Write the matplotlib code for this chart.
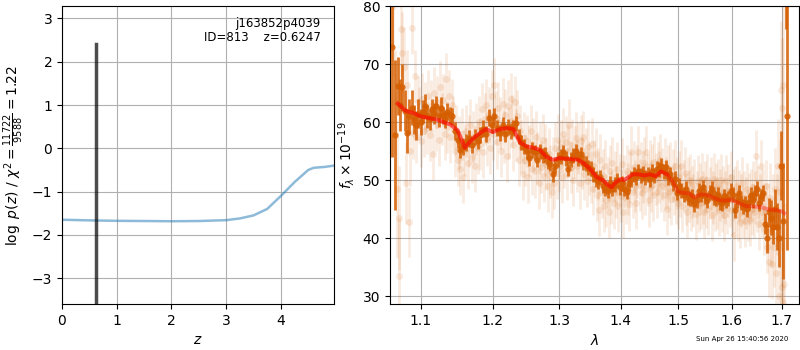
import numpy as np
import matplotlib
matplotlib.use("Agg")
import matplotlib.pyplot as plt
from matplotlib.ticker import NullLocator, FixedLocator, FixedFormatter

# left panel: redshift PDF
z_grid = [0.0, 0.5, 1.0, 1.5, 2.0, 2.5, 3.0, 3.25, 3.5, 3.75, 4.0, 4.25, 4.5, 4.6, 4.8, 4.97]
logp = [-1.65, -1.665, -1.675, -1.68, -1.685, -1.68, -1.66, -1.62, -1.55, -1.4, -1.1, -0.78, -0.5, -0.45, -0.43, -0.4]
zbest = 0.6247
spike_z = [zbest, zbest]
spike_logp = [-8.0, 2.4]
label_txt = "j163852p4039\nID=813    z=0.6247"

# right panel: binned spectrum (dark), raw spectrum (light), model
wave_bin = [1.063, 1.066, 1.070, 1.073, 1.076, 1.079, 1.082, 1.085, 1.088, 1.091, 1.094, 1.097,
            1.100, 1.103, 1.106, 1.109, 1.112, 1.115, 1.118, 1.121, 1.124, 1.127, 1.130, 1.133,
            1.136, 1.139, 1.142, 1.146, 1.150, 1.154, 1.158, 1.162, 1.166, 1.170, 1.174, 1.178,
            1.182, 1.186, 1.190, 1.194, 1.198, 1.202, 1.206, 1.210, 1.214, 1.218, 1.222, 1.226,
            1.230, 1.234, 1.238, 1.242, 1.246, 1.250, 1.254, 1.258, 1.262, 1.266, 1.270, 1.274,
            1.278, 1.282, 1.286, 1.290, 1.294, 1.298, 1.302, 1.306, 1.310, 1.314, 1.318, 1.322,
            1.326, 1.330, 1.334, 1.338, 1.342, 1.346, 1.350, 1.354, 1.358, 1.362, 1.366, 1.370,
            1.374, 1.378, 1.382, 1.386, 1.390, 1.394, 1.398, 1.402, 1.406, 1.410, 1.414, 1.418,
            1.422, 1.426, 1.430, 1.434, 1.438, 1.442, 1.446, 1.450, 1.454, 1.458, 1.462, 1.466,
            1.470, 1.474, 1.478, 1.482, 1.486, 1.490, 1.494, 1.498, 1.502, 1.506, 1.510, 1.514,
            1.518, 1.522, 1.526, 1.530, 1.534, 1.538, 1.542, 1.546, 1.550, 1.554, 1.558, 1.562,
            1.566, 1.570, 1.574, 1.578, 1.582, 1.586, 1.590, 1.594, 1.598, 1.602, 1.606, 1.610,
            1.614, 1.618, 1.622, 1.626, 1.630, 1.634, 1.638, 1.642, 1.646, 1.650, 1.654, 1.658,
            1.662, 1.666, 1.670, 1.674, 1.678, 1.682, 1.686, 1.690, 1.694, 1.698, 1.702, 1.708,
            1.711]
flux_bin = [73.0, 57.8, 66.2, 63.0, 66.0, 62.0, 58.2, 61.0, 62.5, 60.5, 59.5, 61.5,
            60.0, 61.8, 62.8, 61.0, 60.5, 62.2, 61.5, 62.8, 61.0, 62.5, 61.2, 60.5,
            61.8, 61.2, 61.0, 58.5, 57.0, 55.2, 55.8, 56.5, 57.2, 56.0, 57.5, 56.8,
            57.8, 58.9, 58.0, 60.8, 59.5, 61.0, 59.0, 58.2, 59.5, 58.0, 59.2, 58.5,
            59.0, 59.8, 57.5, 56.5, 55.8, 55.0, 53.8, 55.2, 54.8, 53.5, 55.0, 54.2,
            54.5, 53.2, 52.8, 51.0, 52.5, 53.6, 54.0, 54.8, 53.8, 52.0, 53.5, 54.2,
            55.0, 53.8, 54.5, 53.0, 52.8, 52.2, 52.0, 51.0, 50.2, 49.8, 50.5, 49.0,
            48.5, 48.2, 49.5, 48.5, 49.2, 50.0, 48.8, 49.5, 48.5, 48.0, 49.5, 50.2,
            51.0, 50.5, 51.5, 50.8, 51.2, 50.5, 51.0, 50.2, 51.5, 50.8, 52.0, 51.8,
            52.5, 51.5, 52.2, 50.5, 51.0, 49.5, 50.2, 47.8, 49.0, 48.2, 47.5, 48.5,
            47.0, 46.8, 47.2, 45.8, 46.5, 48.2, 47.5, 48.8, 47.2, 46.5, 47.8, 48.5,
            47.0, 46.8, 47.5, 46.2, 46.0, 47.2, 46.5, 46.8, 48.2, 47.5, 44.8, 46.5,
            47.8, 46.2, 45.5, 46.0, 45.0, 46.2, 47.5, 46.5, 47.8, 48.5, 46.0, 47.2,
            47.8, 42.5, 40.0, 44.5, 43.5, 42.0, 45.0, 42.0, 40.0, 52.5, 43.0, 88.0,
            61.0]
err_bin = [19.0, 13.0, 5.0, 4.5, 4.0, 3.5, 3.5, 3.0, 3.0, 2.5, 2.5, 2.5,
           2.2, 2.0, 2.0, 2.0, 1.8, 1.8, 1.8, 1.8, 1.8, 1.8, 1.5, 1.5,
           1.5, 1.5, 1.5, 1.5, 1.5, 1.4, 1.4, 1.4, 1.4, 1.4, 1.4, 1.4,
           1.4, 1.4, 1.4, 1.4, 1.4, 1.4, 1.4, 1.4, 1.4, 1.4, 1.4, 1.4,
           1.3, 1.3, 1.3, 1.3, 1.3, 1.3, 1.3, 1.3, 1.3, 1.3, 1.3, 1.3,
           1.3, 1.3, 1.3, 1.3, 1.3, 1.3, 1.3, 1.3, 1.3, 1.3, 1.3, 1.3,
           1.3, 1.3, 1.3, 1.3, 1.3, 1.3, 1.3, 1.3, 1.3, 1.3, 1.3, 1.3,
           1.3, 1.3, 1.3, 1.3, 1.3, 1.3, 1.3, 1.3, 1.3, 1.3, 1.3, 1.3,
           1.3, 1.3, 1.3, 1.3, 1.3, 1.3, 1.3, 1.3, 1.3, 1.3, 1.3, 1.3,
           1.3, 1.3, 1.3, 1.3, 1.3, 1.3, 1.3, 1.3, 1.3, 1.3, 1.3, 1.3,
           1.3, 1.3, 1.3, 1.3, 1.3, 1.3, 1.3, 1.3, 1.3, 1.3, 1.3, 1.3,
           1.3, 1.3, 1.3, 1.3, 1.3, 1.3, 1.3, 1.3, 1.3, 1.3, 1.3, 1.3,
           1.3, 1.3, 1.3, 1.3, 1.3, 1.3, 1.3, 1.3, 1.3, 1.3, 1.3, 1.3,
           1.4, 1.8, 2.5, 2.5, 3.0, 3.0, 3.5, 4.0, 5.0, 6.0, 10.0, 12.0,
           23.0]

wave_raw = [1.064, 1.067, 1.069, 1.071, 1.072, 1.074, 1.076, 1.078, 1.080, 1.082, 1.084, 1.086,
            1.088, 1.090, 1.092, 1.094, 1.096, 1.098, 1.100, 1.102, 1.104, 1.106, 1.108, 1.110,
            1.112, 1.114, 1.116, 1.118, 1.120, 1.122, 1.124, 1.126, 1.128, 1.130, 1.132, 1.134,
            1.136, 1.138, 1.140, 1.142, 1.144, 1.146, 1.148, 1.150, 1.152, 1.154, 1.156, 1.158,
            1.160, 1.162, 1.164, 1.166, 1.168, 1.170, 1.172, 1.174, 1.176, 1.178, 1.180, 1.182,
            1.184, 1.186, 1.188, 1.190, 1.192, 1.194, 1.196, 1.198, 1.200, 1.202, 1.204, 1.206,
            1.208, 1.210, 1.212, 1.214, 1.216, 1.218, 1.220, 1.222, 1.224, 1.226, 1.228, 1.230,
            1.232, 1.234, 1.236, 1.238, 1.240, 1.242, 1.244, 1.246, 1.248, 1.250, 1.252, 1.254,
            1.256, 1.258, 1.260, 1.262, 1.264, 1.266, 1.268, 1.270, 1.272, 1.274, 1.276, 1.278,
            1.280, 1.282, 1.284, 1.286, 1.288, 1.290, 1.292, 1.294, 1.296, 1.298, 1.300, 1.302,
            1.304, 1.306, 1.308, 1.310, 1.312, 1.314, 1.316, 1.318, 1.320, 1.322, 1.324, 1.326,
            1.328, 1.330, 1.332, 1.334, 1.336, 1.338, 1.340, 1.342, 1.344, 1.346, 1.348, 1.350,
            1.352, 1.354, 1.356, 1.358, 1.360, 1.362, 1.364, 1.366, 1.368, 1.370, 1.372, 1.374,
            1.376, 1.378, 1.380, 1.382, 1.384, 1.386, 1.388, 1.390, 1.392, 1.394, 1.396, 1.398,
            1.400, 1.402, 1.404, 1.406, 1.408, 1.410, 1.412, 1.414, 1.416, 1.418, 1.420, 1.422,
            1.424, 1.426, 1.428, 1.430, 1.432, 1.434, 1.436, 1.438, 1.440, 1.442, 1.444, 1.446,
            1.448, 1.450, 1.452, 1.454, 1.456, 1.458, 1.460, 1.462, 1.464, 1.466, 1.468, 1.470,
            1.472, 1.474, 1.476, 1.478, 1.480, 1.482, 1.484, 1.486, 1.488, 1.490, 1.492, 1.494,
            1.496, 1.498, 1.500, 1.502, 1.504, 1.506, 1.508, 1.510, 1.512, 1.514, 1.516, 1.518,
            1.520, 1.522, 1.524, 1.526, 1.528, 1.530, 1.532, 1.534, 1.536, 1.538, 1.540, 1.542,
            1.544, 1.546, 1.548, 1.550, 1.552, 1.554, 1.556, 1.558, 1.560, 1.562, 1.564, 1.566,
            1.568, 1.570, 1.572, 1.574, 1.576, 1.578, 1.580, 1.582, 1.584, 1.586, 1.588, 1.590,
            1.592, 1.594, 1.596, 1.598, 1.600, 1.602, 1.604, 1.606, 1.608, 1.610, 1.612, 1.614,
            1.616, 1.618, 1.620, 1.622, 1.624, 1.626, 1.628, 1.630, 1.632, 1.634, 1.636, 1.638,
            1.640, 1.642, 1.644, 1.646, 1.648, 1.650, 1.652, 1.654, 1.656, 1.658, 1.660, 1.662,
            1.664, 1.666, 1.668, 1.670, 1.672, 1.674, 1.676, 1.678, 1.680, 1.682, 1.684, 1.686,
            1.688, 1.690, 1.692, 1.694, 1.696, 1.698, 1.699, 1.700, 1.701, 1.702, 1.703, 1.704]
flux_raw = [80.0, 63.5, 48.5, 33.5, 43.5, 76.0, 72.0, 69.5, 49.5, 66.5, 42.8, 55.0,
            76.2, 58.2, 68.0, 57.5, 63.5, 61.5, 56.8, 64.0, 58.5, 62.5, 59.0, 64.5,
            57.8, 62.8, 54.5, 65.0, 59.5, 63.5, 57.0, 66.0, 60.5, 63.8, 58.0, 67.5,
            59.2, 64.5, 57.5, 63.0, 60.0, 55.0, 58.5, 53.5, 56.5, 52.0, 58.0, 50.5,
            55.2, 58.5, 53.0, 56.8, 59.5, 54.0, 57.5, 52.5, 58.8, 55.5, 60.0, 56.2,
            62.2, 54.8, 60.5, 63.0, 57.0, 61.5, 55.5, 64.5, 58.0, 66.5, 60.8, 56.5,
            62.5, 59.8, 55.0, 63.2, 57.5, 61.2, 54.2, 62.8, 58.2, 64.0, 60.2, 56.0,
            63.5, 57.8, 61.0, 53.5, 58.5, 55.8, 51.0, 57.2, 53.5, 56.8, 50.5, 55.0,
            58.5, 52.0, 56.2, 51.5, 57.5, 53.8, 49.5, 55.5, 52.2, 57.0, 50.8, 55.2,
            52.8, 49.0, 54.5, 51.5, 48.0, 53.0, 49.5, 55.5, 51.2, 57.0, 52.5, 55.8,
            50.5, 58.0, 53.2, 56.5, 51.0, 55.0, 59.5, 52.2, 56.0, 50.0, 54.8, 57.2,
            52.5, 55.5, 49.5, 56.8, 53.0, 57.5, 51.0, 54.5, 49.8, 55.8, 52.0, 50.5,
            56.2, 48.5, 52.5, 54.5, 47.5, 51.0, 44.8, 53.5, 48.0, 50.8, 45.5, 52.5,
            46.5, 49.5, 44.5, 51.5, 47.0, 53.0, 46.0, 50.5, 48.0, 52.0, 45.5, 50.0,
            47.2, 52.8, 44.5, 49.8, 47.0, 51.5, 48.5, 45.8, 50.5, 54.8, 48.0, 52.2,
            49.0, 46.0, 51.5, 54.8, 49.2, 52.0, 47.8, 50.5, 53.0, 48.5, 54.8, 50.0,
            46.5, 52.5, 49.0, 51.8, 47.5, 53.2, 50.2, 48.0, 52.0, 50.5, 53.5, 49.0,
            51.0, 47.5, 52.8, 49.5, 45.0, 51.5, 48.0, 52.0, 46.8, 50.8, 48.5, 52.5,
            47.0, 49.5, 46.0, 50.5, 48.2, 52.5, 45.5, 49.0, 51.2, 46.8, 44.5, 49.5,
            47.2, 50.0, 45.8, 48.0, 46.5, 49.2, 44.2, 47.0, 49.8, 45.5, 48.5, 46.0,
            50.2, 47.0, 44.5, 48.8, 46.2, 50.0, 45.0, 47.8, 49.5, 44.0, 47.0, 50.2,
            45.8, 48.5, 46.0, 49.2, 44.8, 47.5, 50.0, 45.5, 48.0, 44.0, 47.0, 49.8,
            45.2, 48.2, 46.5, 50.5, 44.8, 47.5, 40.5, 48.0, 45.5, 49.0, 44.0, 47.2,
            42.8, 46.5, 49.5, 44.5, 47.0, 43.0, 46.0, 48.5, 44.0, 46.8, 43.2, 47.5,
            45.0, 48.8, 44.5, 47.0, 54.2, 45.5, 48.0, 42.5, 46.5, 52.5, 44.5, 47.5,
            41.5, 45.0, 49.0, 38.5, 43.5, 35.8, 47.0, 41.0, 35.5, 45.0, 38.5, 48.5,
            34.0, 44.0, 52.5, 30.0, 48.0, 38.5, 65.5, 31.5, 62.5, 29.0, 66.5, 32.0]
err_raw = ([12, 9, 12, 10, 9, 8, 7, 7, 7, 6, 6, 6] + [4.5] * 292
           + [6, 6, 6, 6, 6, 6, 7, 7, 7, 7, 8, 8, 9, 10, 12, 11, 12, 12, 14, 14])

wave_model = [1.07, 1.08, 1.09, 1.10, 1.12, 1.14, 1.15, 1.16, 1.17, 1.18, 1.19, 1.20, 1.21,
              1.22, 1.23, 1.24, 1.25, 1.26, 1.27, 1.28, 1.29, 1.30, 1.31, 1.32, 1.33, 1.34,
              1.35, 1.36, 1.37, 1.38, 1.385, 1.39, 1.40, 1.405, 1.41, 1.42, 1.43, 1.44, 1.45,
              1.46, 1.47, 1.48, 1.49, 1.50, 1.51, 1.52, 1.53, 1.54, 1.55, 1.56, 1.57, 1.58,
              1.59, 1.60, 1.61, 1.62, 1.63, 1.64, 1.65, 1.66, 1.67, 1.68, 1.69, 1.70, 1.705]
flux_model = [63.2, 62.0, 61.6, 61.0, 60.5, 59.6, 58.6, 55.6, 57.0, 58.0, 58.8, 58.3, 58.8,
              59.0, 58.8, 56.5, 55.8, 55.6, 55.2, 54.0, 53.5, 53.8, 53.7, 53.6, 53.5, 52.8,
              51.8, 50.5, 50.0, 49.0, 48.8, 49.5, 50.2, 50.0, 50.3, 51.0, 51.0, 50.8, 51.0,
              50.7, 51.5, 51.0, 49.8, 48.0, 47.8, 47.7, 47.0, 47.5, 47.5, 47.2, 46.8, 46.5,
              46.5, 46.6, 46.2, 45.8, 45.5, 45.5, 45.4, 45.3, 45.0, 44.9, 44.8, 44.6, 44.3]
n_red = 42  # second (overlapping) model trace stops near 1.48

lam_ticks = [1.1, 1.2, 1.3, 1.4, 1.5, 1.6, 1.7]
stamp = "Sun Apr 26 15:40:56 2020"

col = (0.8353, 0.3686, 0.0)

fig = plt.figure(figsize=(8, 3.5), dpi=100)
ax1 = fig.add_axes([0.0775, 0.131, 0.34, 0.851])
ax2 = fig.add_axes([0.4875, 0.131, 0.511, 0.851])

ax1.plot(z_grid, logp, color='tab:blue', alpha=0.5, lw=1.8)
ax1.plot(spike_z, spike_logp, color='k', alpha=0.7, lw=2.5)
ax1.set_xlim(0, 4.97)
ax1.set_ylim(-3.6, 3.28)
ax1.set_xticks([0, 1, 2, 3, 4])
ax1.set_yticks([-3, -2, -1, 0, 1, 2, 3])
ax1.grid(True)
ax1.set_xlabel('$z$')
ax1.set_ylabel(r'$\log\ p(z)$ / $\chi^2=\frac{11722}{9588}=1.22$')
ax1.text(0.95, 0.965, label_txt, transform=ax1.transAxes, ha='right', va='top',
         fontsize=8.5, linespacing=1.1)

ax2.errorbar(wave_raw, flux_raw, yerr=err_raw, fmt='o', color=col, alpha=0.12,
             ms=5, elinewidth=2, capsize=0, mec='none')
ax2.errorbar(wave_bin, flux_bin, yerr=err_bin, fmt='o', color=col, alpha=0.85,
             ms=4.5, elinewidth=2, capsize=0, mec='none')
ax2.plot(wave_model, flux_model, color='r', alpha=0.35, lw=2.8, zorder=5)
ax2.plot(wave_model[:n_red], flux_model[:n_red], color='r', alpha=0.4, lw=2.8, zorder=5)
ax2.set_xscale('log')
ax2.xaxis.set_major_locator(FixedLocator(lam_ticks))
ax2.xaxis.set_major_formatter(FixedFormatter([str(t) for t in lam_ticks]))
ax2.xaxis.set_minor_locator(NullLocator())
ax2.set_xlim(1.06, 1.735)
ax2.set_ylim(28.6, 80)
ax2.set_yticks([30, 40, 50, 60, 70, 80])
ax2.grid(True)
ax2.set_xlabel(r'$\lambda$')
ax2.set_ylabel(r'$f_\lambda\times10^{-19}$')

fig.text(0.985, 0.022, stamp, ha='right', va='bottom', fontsize=5)

fig.savefig('out.png', dpi=100)
